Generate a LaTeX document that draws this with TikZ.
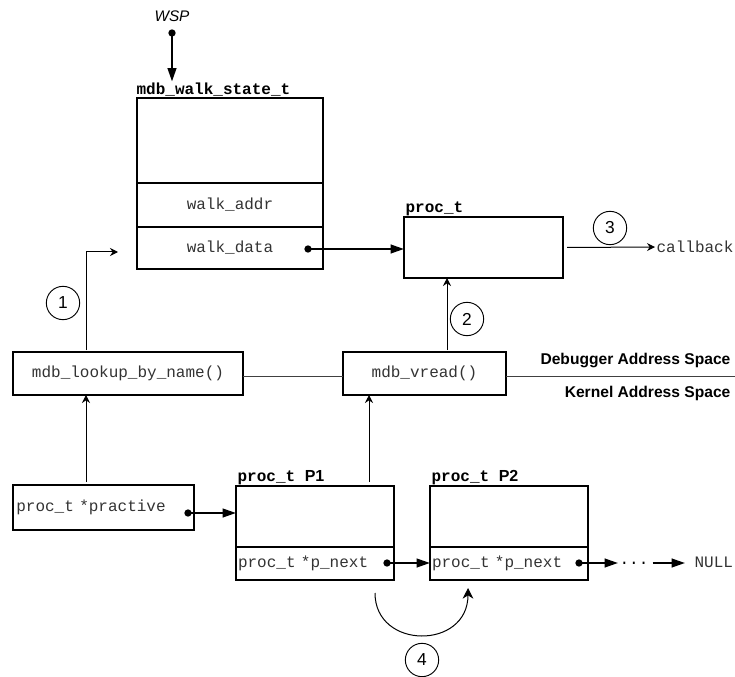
\documentclass[tikz,border=0pt]{standalone}
\usepackage{fontspec}
\setsansfont{Liberation Sans}
\setmonofont{Liberation Mono}
\usepackage{tikz}
\usetikzlibrary{positioning,calc,arrows.meta}
\newcommand\codefont{\fontsize{12}{14}\selectfont\ttfamily}

\begin{document}
\begin{tikzpicture}[x=0.75pt,y=-0.75pt,
    box/.style={draw, rectangle, line width=0.9pt, outer sep=0pt, inner sep=0pt, font=\codefont, text=black!80},
    lbl/.style={font=\codefont\bfseries, inner sep=1pt, anchor=south west},
    num/.style={draw, circle, minimum size=25pt, inner sep=0pt, line width=0.7pt, font=\fontsize{13}{15}\selectfont\sffamily},
    arr/.style={line width=0.75pt, -{Stealth[length=6pt,width=6pt,inset=2pt]}},
    ptr/.style={line width=1.5pt, -{Triangle[length=10pt,width=6.5pt]}},
    ptdot/.style={circle, fill, inner sep=0pt, minimum size=5.5pt},
    side/.style={font=\fontsize{11.7}{13}\selectfont\sffamily\bfseries, inner sep=1pt, anchor=east}]
    \useasboundingbox (0,0) rectangle (735,677);

    \node[font=\fontsize{11.5}{13}\selectfont\sffamily\itshape] (wsp) at (172,16) {WSP};
    \node[ptdot] (wspdot) at (172,33) {};
    \node[box, minimum width=139.5pt, minimum height=63.75pt] (wtop) at (230,140.5) {};
    \node[box, minimum width=139.5pt, minimum height=33pt, below=0pt of wtop] (waddr) {walk\_addr};
    \node[box, minimum width=139.5pt, minimum height=31.5pt, below=0pt of waddr] (wdata) {walk\_data};
    \node[lbl] (wlabel) at ([xshift=-1.5pt]wtop.north west) {mdb\_walk\_state\_t};
    \node[ptdot] (wdot) at (308,249) {};

    \node[box, minimum width=119.25pt, minimum height=45.75pt] (proct) at (483.5,247.5) {};
    \node[lbl] (ptlabel) at (proct.north west) {proc\_t};
    \node[font=\codefont, text=black!80, inner sep=1pt, anchor=west] (cb) at (655,247) {callback};
    \node[num] (n3) at (610,228) {3};

    \node[box, minimum width=172.5pt, minimum height=32.25pt] (lookup) at (128,373.5) {mdb\_lookup\_by\_name()};
    \node[box, minimum width=122.25pt, minimum height=32.25pt] (vread) at (424.5,373.5) {mdb\_vread()};
    \coordinate (rim) at (735,376);
    \node[side] (dbg) at (732,361) {Debugger Address Space};
    \node[side] (kern) at (732,393) {Kernel Address Space};
    \node[num] (n1) at (63,303) {1};
    \node[num] (n2) at (467,319) {2};

    \node[box, minimum height=33.75pt, text width=130.75pt, inner xsep=2.5pt, align=left] (practive) at (103.5,507.5) {proc\_t *practive};
    \node[ptdot] (padot) at (188,513) {};
    \node[box, minimum width=118.5pt, minimum height=45.75pt] (p1top) at (315,516.5) {};
    \node[box, minimum height=24.75pt, text width=115.5pt, inner xsep=1.5pt, align=left, below=0pt of p1top] (p1next) {proc\_t *p\_next};
    \node[lbl] (p1label) at (p1top.north west) {proc\_t \textsf{P1}};
    \node[ptdot] (p1dot) at (387,563) {};
    \node[box, minimum width=118.5pt, minimum height=45.75pt] (p2top) at (509,516.5) {};
    \node[box, minimum height=24.75pt, text width=115.5pt, inner xsep=1.5pt, align=left, below=0pt of p2top] (p2next) {proc\_t *p\_next};
    \node[lbl] (p2label) at (p2top.north west) {proc\_t \textsf{P2}};
    \node[ptdot] (p2dot) at (579,563) {};
    \node[font=\codefont, inner sep=1pt, anchor=west] (more) at (618,563) {...};
    \node[font=\codefont, text=black!80, inner sep=1pt, anchor=west] (null) at (693,562) {NULL};
    \node[num] (n4) at (422,660) {4};

    \draw[ptr] (wspdot.center) -- (wspdot |- wlabel.north);
    \draw[ptr] (wdot.center) -- (proct.west |- wdot);
    \draw[arr] ($(proct.east)+(4,0)$) -- (cb.west);
    \coordinate (v2) at ($(vread.north)+(22.5,-2)$);
    \draw[arr] (v2) -- (v2 |- proct.south);
    \coordinate (l1) at ($(lookup.north)+(-42,-2)$);
    \coordinate (w1) at ($(wdata.west)+(-19,4)$);
    \draw[arr] (l1) |- (w1);
    \draw[line width=0.75pt, black!75] (lookup.east |- rim) -- (vread.west |- rim);
    \draw[line width=0.75pt, black!75] (vread.east |- rim) -- (rim);
    \coordinate (pa) at ($(practive.north -| l1)+(0,-3)$);
    \draw[arr] (pa) -- (pa |- lookup.south);
    \coordinate (p1up) at ($(p1top.north)+(54,-4)$);
    \draw[arr] (p1up) -- (p1up |- vread.south);
    \draw[ptr] (padot.center) -- (p1top.west |- padot);
    \draw[ptr] (p1dot.center) -- (p2next.west |- p1dot);
    \draw[ptr] (p2dot.center) -- (more.west);
    \draw[ptr, shorten <=2pt, shorten >=6pt] (more.east) -- (null.west |- more);
    \draw[line width=0.75pt, -{Stealth[length=8pt,width=8pt,inset=2.5pt]}]
        ($(p1next.south east)+(-19,13)$) .. controls +(0,57) and +(0,62) .. ($(p2next.south west)+(38,8)$);
\end{tikzpicture}
\end{document}
